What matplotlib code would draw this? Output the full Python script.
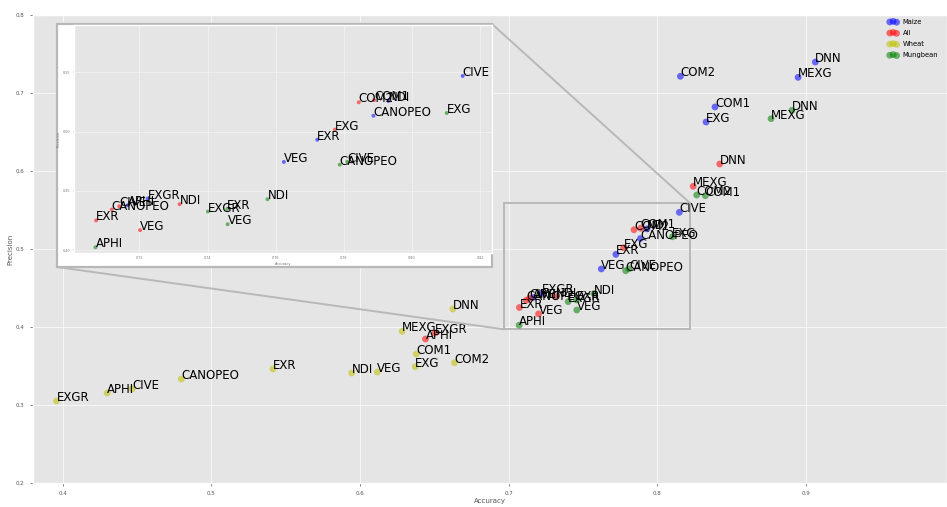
import matplotlib
matplotlib.use("Agg")
import matplotlib.pyplot as plt
from matplotlib.patches import Rectangle, ConnectionPatch

# Vegetation-index classifiers: accuracy vs precision per crop dataset
maize_names = ["DNN", "MEXG", "COM2", "COM1", "EXG", "CIVE", "NDI", "CANOPEO",
               "EXR", "VEG", "EXGR", "APHI"]
maize_acc = [0.9064, 0.8948, 0.8156, 0.8389, 0.8329, 0.8149, 0.7931, 0.7887,
             0.7722, 0.7624, 0.7224, 0.7166]
maize_prec = [0.7397, 0.7201, 0.7214, 0.6821, 0.6628, 0.5470, 0.5258, 0.5134,
              0.4931, 0.4744, 0.4434, 0.4378]

all_names = ["DNN", "MEXG", "COM1", "COM2", "EXG", "NDI", "CIVE", "CANOPEO",
             "EXR", "VEG", "APHI", "EXGR"]
all_acc = [0.8421, 0.8242, 0.7889, 0.7844, 0.7774, 0.7318, 0.7141, 0.7119,
           0.7073, 0.7202, 0.6441, 0.6506]
all_prec = [0.6090, 0.5804, 0.5266, 0.5247, 0.5017, 0.4387, 0.4370, 0.4342,
            0.4250, 0.4168, 0.3846, 0.3923]

wheat_names = ["DNN", "MEXG", "COM1", "EXG", "COM2", "VEG", "NDI", "EXR",
               "CANOPEO", "CIVE", "APHI", "EXGR"]
wheat_acc = [0.6625, 0.6284, 0.6379, 0.6372, 0.6636, 0.6117, 0.5944, 0.5415,
             0.4798, 0.4467, 0.4299, 0.3958]
wheat_prec = [0.4231, 0.3945, 0.3654, 0.3491, 0.3542, 0.3423, 0.3410, 0.3462,
              0.3333, 0.3205, 0.3154, 0.3051]

mung_names = ["DNN", "MEXG", "COM2", "COM1", "EXG", "CIVE", "CANOPEO", "NDI",
              "EXR", "EXGR", "VEG", "APHI"]
mung_acc = [0.8907, 0.8766, 0.8266, 0.8324, 0.8102, 0.7810, 0.7788, 0.7576,
            0.7458, 0.7401, 0.7459, 0.7071]
mung_prec = [0.6778, 0.6671, 0.5692, 0.5683, 0.5157, 0.4746, 0.4721, 0.4429,
             0.4347, 0.4325, 0.4218, 0.4023]

groups = [
    ("Maize", "blue", maize_names, maize_acc, maize_prec),
    ("All", "red", all_names, all_acc, all_prec),
    ("Wheat", "y", wheat_names, wheat_acc, wheat_prec),
    ("Mungbean", "green", mung_names, mung_acc, mung_prec),
]

main_xticks = [0.4, 0.5, 0.6, 0.7, 0.8, 0.9]
main_yticks = [0.2, 0.3, 0.4, 0.5, 0.6, 0.7, 0.8]
zoom_xticks = [0.72, 0.74, 0.76, 0.78, 0.80, 0.82]
zoom_yticks = [0.40, 0.45, 0.50, 0.55]

plt.style.use("ggplot")
W, H = 947, 507
fig = plt.figure(figsize=(W / 100, H / 100), dpi=100)
fig.patch.set_facecolor("white")

LABEL_FS = 8.5
GRAY = "#b8b8b8"

# ---- main panel -----------------------------------------------------------
ax = fig.add_axes([33 / W, 24 / H, 914 / W, 468 / H], zorder=0)
for label, color, names, acc, prec in groups:
    ax.scatter(acc, prec, s=24, color=color, alpha=0.55, edgecolors="none",
               label=label, zorder=3)
    for n, xa, yp in zip(names, acc, prec):
        ax.text(xa, yp, n, fontsize=LABEL_FS, color="black", zorder=4)

ax.set_xlim(0.38, 0.995)
ax.set_ylim(0.2, 0.8)
ax.set_xticks(main_xticks)
ax.set_yticks(main_yticks)
ax.tick_params(labelsize=4, colors="#555555", length=2, width=0.5, pad=4)
ax.set_xlabel("Accuracy", fontsize=5, color="#555555", labelpad=1)
ax.set_ylabel("Precision", fontsize=5, color="#555555", labelpad=2)
ax.grid(True, color="white", linewidth=0.6, alpha=0.8)

leg = ax.legend(loc="upper left", bbox_to_anchor=(885 / W, 1 - 16 / H),
                bbox_transform=fig.transFigure, frameon=False, fontsize=4.9,
                scatterpoints=3, handlelength=1.6, handletextpad=0.6,
                labelspacing=0.75, borderaxespad=0, markerscale=1.0)

# zoomed region marker on the main panel
zx0, zx1, zy0, zy1 = 0.697, 0.822, 0.397, 0.559
ax.add_patch(Rectangle((zx0, zy0), zx1 - zx0, zy1 - zy0, fill=False,
                       edgecolor=GRAY, linewidth=1.4, zorder=2))

# ---- inset panel ----------------------------------------------------------
frame_l, frame_r, frame_t, frame_b = 57, 492, 24, 267
fig.add_artist(Rectangle((frame_l / W, 1 - frame_b / H),
                         (frame_r - frame_l) / W, (frame_b - frame_t) / H,
                         transform=fig.transFigure, facecolor="white",
                         edgecolor=GRAY, linewidth=1.6, zorder=2))

for (xa, ya, xb, yb) in [(zx1, zy1, frame_r, frame_t), (zx0, zy0, frame_l, frame_b)]:
    con = ConnectionPatch(xyA=(xa, ya), coordsA=ax.transData,
                          xyB=(xb / W, 1 - yb / H), coordsB=fig.transFigure,
                          color=GRAY, linewidth=1.4, zorder=1)
    fig.add_artist(con)

axi = fig.add_axes([74 / W, 1 - 253 / H, (492 - 74) / W, (253 - 25) / H], zorder=3)
for label, color, names, acc, prec in groups:
    axi.scatter(acc, prec, s=8, color=color, alpha=0.55, edgecolors="none", zorder=3)
    for n, xa, yp in zip(names, acc, prec):
        axi.text(xa, yp, n, fontsize=LABEL_FS, color="black", zorder=4, clip_on=True)

axi.set_xlim(0.7008, 0.8235)
axi.set_ylim(0.3975, 0.59)
axi.set_xticks(zoom_xticks)
axi.set_yticks(zoom_yticks)
axi.set_xticklabels([f"{t:.2f}" for t in zoom_xticks])
axi.set_yticklabels([f"{t:.2f}" for t in zoom_yticks])
axi.tick_params(labelsize=2.4, colors="#777777", length=1, width=0.3, pad=1.5)
axi.set_xlabel("Accuracy", fontsize=2.6, color="#777777", labelpad=1)
axi.set_ylabel("Precision", fontsize=2.6, color="#777777", labelpad=2)
axi.grid(True, color="white", linewidth=0.4, alpha=0.7)

fig.savefig("out.png", dpi=100)
